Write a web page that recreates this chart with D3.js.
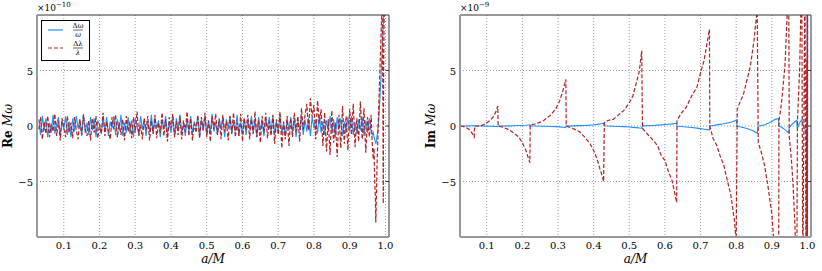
<!DOCTYPE html>
<html>
<head>
<meta charset="utf-8">
<script src="https://cdn.jsdelivr.net/npm/d3@7"></script>
<style>
  body { margin: 0; background: #fff; }
  svg { font-family: "DejaVu Serif", "Liberation Serif", serif; }
</style>
</head>
<body>
<figure id="chart" style="margin:0"></figure>
<script>
// x ticks shared by both panels
const xTicks = [0.1, 0.2, 0.3, 0.4, 0.5, 0.6, 0.7, 0.8, 0.9, 1.0];
const yTicks = [-5, 0, 5];

// left panel: Re M omega (units 1e-10), uniform a grid from 0.03 step 0.005
const reStart = 0.03, reStep = 0.005;
const reBlue = [
  0.6,-0.8,0.9,-0.4,0.7,-1.0,0.3,-0.6,1.0,-0.7,
  0.2,0.8,-0.9,0.5,-0.3,0.9,-0.8,0.4,-1.0,0.7,
  -0.5,0.9,-0.2,0.6,-0.9,1.1,-0.6,0.3,-0.8,0.8,
  -0.4,0.7,-1.0,0.5,0.1,-0.7,0.9,-0.5,0.8,-0.9,
  0.4,-0.2,0.9,-0.8,0.6,-0.4,1.0,-0.9,0.3,-0.6,
  0.8,-0.7,0.5,-1.0,0.7,0.0,-0.8,0.9,-0.3,0.6,
  -0.9,0.4,-0.5,1.0,-0.7,0.8,-0.2,0.5,-1.0,0.6,
  -0.3,0.9,-0.8,0.3,-0.6,0.8,-0.9,0.7,-0.4,1.0,
  -0.6,0.2,-0.9,0.7,-0.5,0.9,-0.7,0.4,-0.1,0.8,
  -1.0,0.6,-0.4,0.9,-0.8,0.5,-0.7,1.1,-0.5,0.3,
  -0.8,0.7,-0.3,0.8,-1.0,0.6,-0.2,0.9,-0.7,0.4,
  -0.5,1.0,-0.9,0.3,-0.6,0.7,-0.8,0.5,-0.3,0.9,
  -0.7,0.6,-1.0,0.8,-0.4,0.5,-0.9,0.7,-0.2,0.8,
  -0.6,0.9,-0.8,0.4,-0.5,1.0,-0.7,0.3,-0.9,0.6,
  -0.4,0.8,-0.6,0.7,-1.0,0.5,-0.3,0.9,-0.8,0.6,
  -0.5,0.7,-0.9,0.8,-0.2,0.6,-0.7,1.0,-0.6,0.4,
  -0.8,0.5,-0.4,0.9,-0.7,0.6,-1.0,0.8,-0.3,0.7,
  -0.9,0.4,-0.6,0.8,-0.5,0.9,-0.8,0.3,-0.7,0.6,
  -0.4,0.8,-0.9,0.5,-0.6,0.7
];
const reRed = [
  -0.3,0.8,-1.2,0.4,-0.7,0.9,-1.0,0.2,-0.5,1.1,
  -0.9,0.5,-1.3,0.7,-0.2,-1.0,0.9,-0.6,0.3,-1.1,
  0.8,-0.4,-1.2,0.6,-0.8,1.0,-0.3,-0.9,0.5,-1.3,
  0.7,-0.6,0.9,-1.1,0.2,-0.7,1.2,-0.9,0.4,-0.5,
  -1.2,0.8,-0.3,1.0,-1.0,0.3,-0.8,0.6,-1.3,0.9,
  -0.5,0.4,-1.1,0.8,-0.6,1.3,-0.9,0.1,-1.2,0.7,
  -0.4,0.9,-1.3,0.5,-0.7,1.0,-1.1,0.3,-0.6,1.2,
  -0.9,0.6,-1.4,0.8,-0.2,1.1,-1.0,0.4,-0.8,0.9,
  -1.2,0.5,-0.5,1.3,-0.9,0.7,-1.3,0.2,-0.6,1.0,
  -1.1,0.8,-0.4,1.2,-1.0,0.5,-1.4,0.9,-0.3,1.1,
  -0.8,0.6,-1.2,1.0,-0.5,0.4,-1.3,0.9,-0.7,1.2,
  -1.0,0.3,-0.9,1.1,-1.4,0.7,-0.4,1.0,-1.2,0.6,
  -0.7,1.3,-1.0,0.5,-1.5,0.9,-0.6,1.2,-1.1,0.4,
  -0.9,1.0,-1.6,0.6,-0.8,1.3,-2.0,0.4,-1.2,0.9,
  -1.8,0.7,-1.0,1.2,-0.5,0.9,-1.4,1.6,-0.3,1.0,
  2.0,-0.4,2.5,0.8,1.9,-1.2,2.3,0.2,1.5,-1.8,
  1.2,-2.3,0.6,-2.6,1.4,-1.5,0.3,-2.8,1.0,-2.0,
  1.8,-1.6,0.9,-2.2,1.5,-0.8,2.0,-1.9,0.7,-1.4,
  2.2,-1.2,1.6,-2.4,0.8,-1.0
];
// near-extremal tail, explicit a values
const reTailA    = [0.960,0.963,0.966,0.968,0.970,0.972,0.973,0.975,0.977,0.979,0.981,0.983,0.985,0.987,0.989,0.991,0.993,0.994,0.995,0.997,0.999,1.002];
const reTailBlue = [-0.5,-0.8,-0.6,-1.0,-1.2,-1.4,-1.6,-1.3,-0.8,-0.2,0.5,1.5,2.8,4.0,5.5,7.0,8.5,9.2,9.8,11,13,15];
const reTailRed  = [1.0,-1.5,-3.0,-2.0,-5.0,-6.5,-8.7,-6.0,-3.0,-1.0,1.5,3.5,5.5,7.5,9.5,11,2.0,-7.0,5.0,12,14,16];

// right panel: Im M omega (units 1e-9)
const imA = [
  0.027,0.040,0.050,0.058,0.065,0.066,0.080,0.090,0.100,0.110,0.120,0.126,0.131,
  0.132,0.145,0.160,0.175,0.190,0.200,0.210,0.216,0.221,
  0.222,0.240,0.260,0.280,0.295,0.305,0.314,0.322,
  0.323,0.340,0.360,0.375,0.390,0.400,0.410,0.418,0.424,0.428,
  0.430,0.440,0.455,0.470,0.485,0.500,0.510,0.520,0.528,0.535,
  0.537,0.550,0.565,0.580,0.590,0.600,0.610,0.620,0.628,0.633,
  0.634,0.645,0.660,0.675,0.690,0.700,0.710,0.718,0.725,
  0.726,0.735,0.745,0.755,0.765,0.775,0.785,0.795,0.800,
  0.803,0.810,0.820,0.830,0.840,0.850,0.859,
  0.862,0.870,0.880,0.890,0.900,0.906,0.912,0.919,
  0.920,0.925,0.930,0.937,0.943,0.947,
  0.949,0.955,0.960,0.965,0.970,
  0.972,0.978,0.984,0.987,0.993,0.996,0.998,0.999,0.9995,1.0,1.0005
];
const imRed = [
  0.0,-0.1,-0.3,-0.6,-1.0,0.0,0.0,0.1,0.3,0.5,0.9,1.3,1.8,
  0.0,-0.1,-0.3,-0.6,-1.0,-1.5,-2.2,-2.8,-3.3,
  0.1,0.2,0.5,1.0,1.6,2.3,3.2,4.2,
  0.0,-0.2,-0.5,-1.0,-1.6,-2.2,-3.0,-3.9,-4.5,-5.0,
  0.3,0.5,0.6,1.0,1.4,2.1,2.7,3.9,4.9,6.8,
  -0.2,-0.7,-1.2,-1.8,-2.7,-3.1,-4.1,-4.9,-6.1,-6.9,
  0.5,1.1,1.7,2.7,3.5,4.8,5.9,7.4,8.7,
  0.0,-1.1,-1.7,-2.7,-3.5,-4.9,-6.2,-8.5,-10.5,
  1.5,2.1,2.8,4.1,5.4,7.7,10.5,
  -1.5,-2.3,-3.6,-5.6,-7.9,-10.5,-14,-20,
  0.5,1.5,3.0,5.5,10.0,16,
  -1.0,-3.0,-5.5,-9.0,-15,
  0.5,5.0,14,-14,14,-14,6,-14,14,-14,14
];
const imBlue = [
  0.0,0.0,0.01,0.02,0.03,0.0,0.0,0.0,-0.01,-0.02,-0.03,-0.04,-0.05,
  0.0,0.0,0.01,0.02,0.04,0.05,0.07,0.09,0.11,
  0.0,0.0,-0.02,-0.04,-0.06,-0.08,-0.11,-0.15,
  0.0,0.01,0.03,0.05,0.08,0.11,0.15,0.19,0.22,0.25,
  0.02,0.0,-0.02,-0.04,-0.06,-0.09,-0.12,-0.15,-0.18,-0.2,
  0.0,0.03,0.05,0.08,0.1,0.13,0.16,0.19,0.22,0.24,
  -0.02,-0.05,-0.09,-0.14,-0.19,-0.24,-0.29,-0.33,-0.36,
  0.0,0.05,0.1,0.15,0.2,0.27,0.34,0.44,0.54,
  0.0,-0.06,-0.13,-0.22,-0.33,-0.47,-0.66,
  0.0,0.04,0.12,0.25,0.4,0.55,0.62,0.66,
  0.0,-0.08,-0.18,-0.33,-0.5,-0.6,
  -0.15,0.1,0.25,0.4,0.5,
  -0.2,0.3,0.55,0.2,-0.3,-0.6,-1.0,-14,14,-14,14
];

const W = 822, H = 271;
const plotTop = 15, plotBottom = 237;
const blue = "#1e90ff", red = "#b22222";

const svg = d3.select("figure#chart")
  .append("svg")
  .attr("width", W)
  .attr("height", H);

function drawPanel(p) {
  const x = d3.scaleLinear().domain([0.025, 1.01]).range([p.left, p.right]);
  const y = d3.scaleLinear().domain([-10, 10]).range([plotBottom, plotTop]);
  const g = svg.append("g");

  // grid
  g.selectAll(".gx").data(xTicks).enter().append("line")
    .attr("x1", d => x(d)).attr("x2", d => x(d))
    .attr("y1", plotTop).attr("y2", plotBottom)
    .attr("stroke", "#888").attr("stroke-width", 0.8)
    .attr("stroke-dasharray", "1,2");
  g.selectAll(".gy").data(yTicks).enter().append("line")
    .attr("x1", p.left).attr("x2", p.right)
    .attr("y1", d => y(d)).attr("y2", d => y(d))
    .attr("stroke", "#888").attr("stroke-width", 0.8)
    .attr("stroke-dasharray", "1,2");

  // clip to plot area
  svg.append("clipPath").attr("id", p.id)
    .append("rect")
    .attr("x", p.left).attr("y", plotTop)
    .attr("width", p.right - p.left).attr("height", plotBottom - plotTop);

  const line = d3.line().x(d => x(d[0])).y(d => y(d[1]));
  const plot = g.append("g").attr("clip-path", `url(#${p.id})`);

  plot.append("path")
    .datum(p.blue)
    .attr("fill", "none")
    .attr("stroke", blue)
    .attr("stroke-width", 1.1)
    .attr("d", line);
  plot.append("path")
    .datum(p.red)
    .attr("fill", "none")
    .attr("stroke", red)
    .attr("stroke-width", 1.2)
    .attr("stroke-dasharray", "4,2")
    .attr("d", line);

  // frame: dark top/right, light thick left/bottom
  g.append("line").attr("x1", p.left).attr("x2", p.right).attr("y1", plotTop).attr("y2", plotTop)
    .attr("stroke", "#333").attr("stroke-width", 1);
  g.append("line").attr("x1", p.right).attr("x2", p.right).attr("y1", plotTop).attr("y2", plotBottom)
    .attr("stroke", "#333").attr("stroke-width", 1);
  g.append("line").attr("x1", p.left).attr("x2", p.right).attr("y1", plotBottom).attr("y2", plotBottom)
    .attr("stroke", "#999").attr("stroke-width", 2);
  g.append("line").attr("x1", p.left).attr("x2", p.left).attr("y1", plotTop).attr("y2", plotBottom)
    .attr("stroke", "#999").attr("stroke-width", 2);

  // inward ticks on right edge
  g.selectAll(".tr").data(yTicks).enter().append("line")
    .attr("x1", p.right - 3).attr("x2", p.right)
    .attr("y1", d => y(d)).attr("y2", d => y(d))
    .attr("stroke", "#333");

  // tick labels
  g.selectAll(".lx").data(xTicks).enter().append("text")
    .attr("x", d => x(d)).attr("y", 249)
    .attr("text-anchor", "middle")
    .style("font-size", "10px")
    .text(d => d.toFixed(1));
  g.selectAll(".ly").data(yTicks).enter().append("text")
    .attr("x", p.left - 4).attr("y", d => y(d) + 4)
    .attr("text-anchor", "end")
    .style("font-size", "10px")
    .text(d => d < 0 ? "\u2212" + (-d) : d);

  // offset text
  const off = g.append("text").attr("x", p.left).attr("y", 11).style("font-size", "9px");
  off.append("tspan").text("\u00d710");
  off.append("tspan").attr("dy", -4).style("font-size", "7px").text(p.exp);

  // axis labels
  g.append("text")
    .attr("x", (p.left + p.right) / 2).attr("y", 263)
    .attr("text-anchor", "middle")
    .style("font-size", "12px").style("font-style", "italic")
    .text("a/M");
  const yl = g.append("text")
    .attr("transform", `translate(${p.left - 25},${(plotTop + plotBottom) / 2}) rotate(-90)`)
    .attr("text-anchor", "middle")
    .style("font-size", "12px");
  yl.append("tspan").style("font-weight", "bold").text(p.ylab + " ");
  yl.append("tspan").style("font-style", "italic").text("M\u03c9");
}

const reBluePts = reBlue.map((v, i) => [reStart + i * reStep, v])
  .concat(reTailA.map((a, i) => [a, reTailBlue[i]]));
const reRedPts = reRed.map((v, i) => [reStart + i * reStep, v])
  .concat(reTailA.map((a, i) => [a, reTailRed[i]]));

drawPanel({ id: "clipL", left: 37, right: 389, blue: reBluePts, red: reRedPts, exp: "\u221210", ylab: "Re" });
drawPanel({ id: "clipR", left: 460, right: 811,
  blue: imA.map((a, i) => [a, imBlue[i]]),
  red: imA.map((a, i) => [a, imRed[i]]),
  exp: "\u22129", ylab: "Im" });

// legend in left panel
const lg = svg.append("g");
lg.append("rect").attr("x", 41.5).attr("y", 20.5).attr("width", 48).attr("height", 40)
  .attr("fill", "#fff").attr("stroke", "#000").attr("stroke-width", 1);
lg.append("line").attr("x1", 48).attr("x2", 63).attr("y1", 30).attr("y2", 30)
  .attr("stroke", blue).attr("stroke-width", 1.2);
lg.append("line").attr("x1", 48).attr("x2", 63).attr("y1", 48).attr("y2", 48)
  .attr("stroke", red).attr("stroke-width", 1.2).attr("stroke-dasharray", "4,2");
const fracs = [["\u0394\u03c9", "\u03c9", 30], ["\u0394\u03bb", "\u03bb", 48]];
fracs.forEach(f => {
  lg.append("text").attr("x", 78).attr("y", f[2] - 2).attr("text-anchor", "middle")
    .style("font-size", "7px").text(f[0]);
  lg.append("line").attr("x1", 73).attr("x2", 83).attr("y1", f[2]).attr("y2", f[2])
    .attr("stroke", "#000").attr("stroke-width", 0.6);
  lg.append("text").attr("x", 78).attr("y", f[2] + 7).attr("text-anchor", "middle")
    .style("font-size", "7px").style("font-style", "italic").text(f[1]);
});
</script>
</body>
</html>
